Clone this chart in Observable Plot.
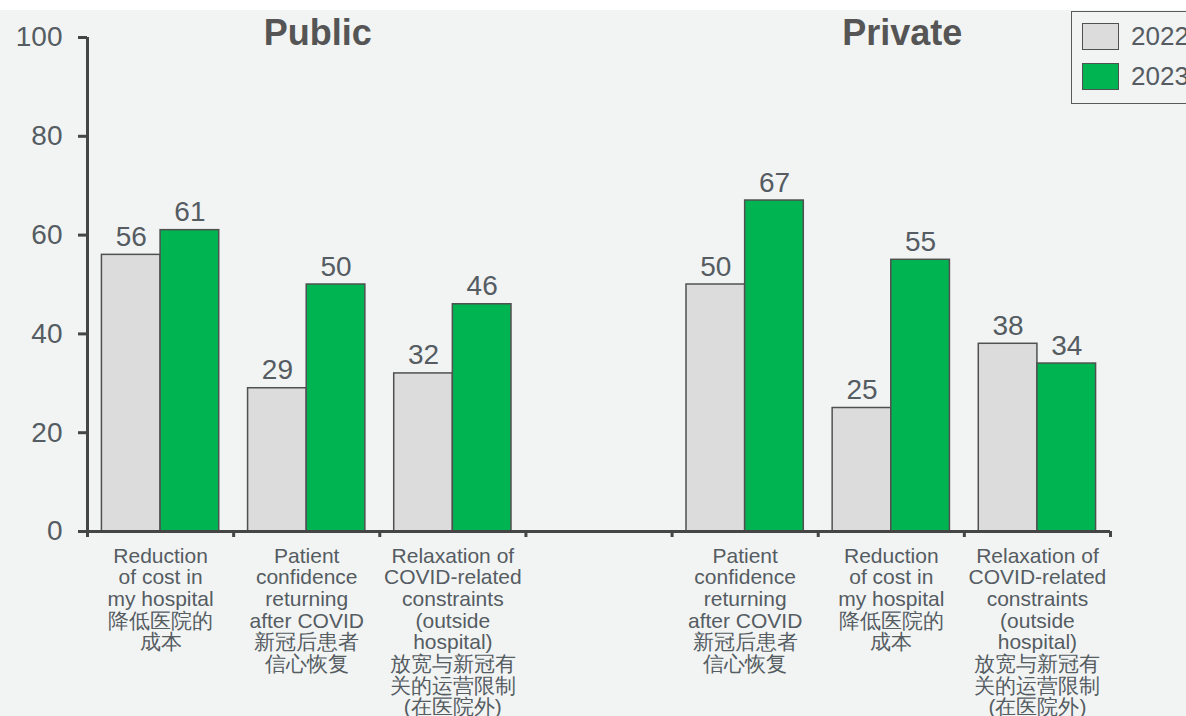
<!DOCTYPE html>
<html>
<head>
<meta charset="utf-8">
<script src="https://cdn.jsdelivr.net/npm/d3@7"></script>
<script src="https://cdn.jsdelivr.net/npm/@observablehq/plot@0.6"></script>
<style>
  html, body { margin: 0; padding: 0; background: #ffffff; overflow: hidden; width: 1186px; height: 716px; }
  #wrap { position: absolute; top: 10px; left: 0; width: 1186px; height: 706px; background: #f2f4f4; overflow: hidden; }
  #chart svg { display: block; }
  #legend { position: absolute; left: 1071px; top: 1px; width: 140px; height: 93px; border: 1px solid #5a5a5a; box-sizing: border-box;
            font-family: "Liberation Sans", Arial, sans-serif; font-size: 26px; color: #555c62; }
  .item { position: absolute; left: 10px; height: 30px; display: flex; align-items: center; }
  .sw { width: 37px; height: 27px; border: 1.5px solid #505050; box-sizing: border-box; margin-right: 12px; }
</style>
</head>
<body>
<div id="wrap">
  <div id="chart"></div>
  <div id="legend"></div>
</div>
<script>
// ---- data ----
const groups = ["Public", "Private"];
const years = ["2022", "2023"];
const publicCategories = [
  "Reduction\nof cost in\nmy hospital\n降低医院的\n成本",
  "Patient\nconfidence\nreturning\nafter COVID\n新冠后患者\n信心恢复",
  "Relaxation of\nCOVID-related\nconstraints\n(outside\nhospital)\n放宽与新冠有\n关的运营限制\n(在医院外)"
];
const privateCategories = [
  "Patient\nconfidence\nreturning\nafter COVID\n新冠后患者\n信心恢复",
  "Reduction\nof cost in\nmy hospital\n降低医院的\n成本",
  "Relaxation of\nCOVID-related\nconstraints\n(outside\nhospital)\n放宽与新冠有\n关的运营限制\n(在医院外)"
];
const public2022 = [56, 29, 32];
const public2023 = [61, 50, 46];
const private2022 = [50, 25, 38];
const private2023 = [67, 55, 34];
const yTicks = [0, 20, 40, 60, 80, 100];
const barColors = ["#dcdcdc", "#00b451"];

// ---- build tables ----
const groupCats = [publicCategories, privateCategories];
const groupVals = [[public2022, public2023], [private2022, private2023]];
const slotsPerGroup = groupCats[0].length + 1; // one empty slot between groups
const nSlots = slotsPerGroup * groups.length - 1;

const sub = d3.scaleBand().domain(years).range([0, 1]).paddingInner(0).paddingOuter(0.246);

const cats = [];
const rows = [];
groups.forEach((g, gi) => {
  groupCats[gi].forEach((c, ci) => {
    const slot = gi * slotsPerGroup + ci;
    cats.push({slot, label: c});
    years.forEach((y, yi) => {
      const x1 = slot + sub(y);
      rows.push({group: g, slot, year: y, value: groupVals[gi][yi][ci], x1, x2: x1 + sub.bandwidth()});
    });
  });
});
const titles = groups.map((g, gi) => ({group: g, x: gi * slotsPerGroup + (groupCats[gi].length) / 2}));

const ink = "#555c62";
const axisInk = "#454545";

const chart = Plot.plot({
  width: 1186,
  height: 706,
  marginLeft: 87,
  marginRight: 76,
  marginTop: 27,
  marginBottom: 185,
  style: {background: "transparent", fontFamily: "'Liberation Sans', Arial, sans-serif", color: ink, overflow: "visible"},
  x: {domain: [0, nSlots], axis: null},
  y: {domain: [0, 100], axis: null},
  color: {domain: years, range: barColors},
  marks: [
    Plot.rectY(rows, {x1: "x1", x2: "x2", y1: 0, y2: "value", fill: "year", stroke: "#505050", strokeWidth: 1.5}),
    Plot.text(rows, {x: d => (d.x1 + d.x2) / 2, y: "value", text: d => String(d.value), lineAnchor: "bottom", dy: -9, fontSize: 28, fill: ink}),
    Plot.axisY({ticks: yTicks, label: null, tickSize: 9, tickPadding: 16, fontSize: 28, stroke: axisInk, strokeWidth: 3, fill: ink}),
    Plot.axisX({ticks: d3.range(nSlots + 1), label: null, tickFormat: () => "", tickSize: 6, stroke: axisInk, strokeWidth: 3}),
    Plot.ruleX([0], {y1: 0, y2: 100, stroke: axisInk, strokeWidth: 3}),
    Plot.ruleY([0], {x1: 0, x2: nSlots, stroke: axisInk, strokeWidth: 3}),
    Plot.text(cats, {x: d => d.slot + 0.5, y: 0, text: "label", lineAnchor: "top", dy: 16, fontSize: 21, lineHeight: 1.03, fill: ink}),
    Plot.text(titles, {x: "x", y: 100, text: "group", lineAnchor: "bottom", dy: 7, dx: 11, fontSize: 36, fontWeight: "bold", fill: "#555555"})
  ]
});
document.getElementById("chart").appendChild(chart);

// ---- legend ----
const legend = document.getElementById("legend");
years.forEach((y, i) => {
  const item = document.createElement("div");
  item.className = "item";
  item.style.top = (9 + i * 40) + "px";
  const sw = document.createElement("div");
  sw.className = "sw";
  sw.style.background = barColors[i];
  const lab = document.createElement("span");
  lab.textContent = y;
  item.appendChild(sw);
  item.appendChild(lab);
  legend.appendChild(item);
});
</script>
</body>
</html>
